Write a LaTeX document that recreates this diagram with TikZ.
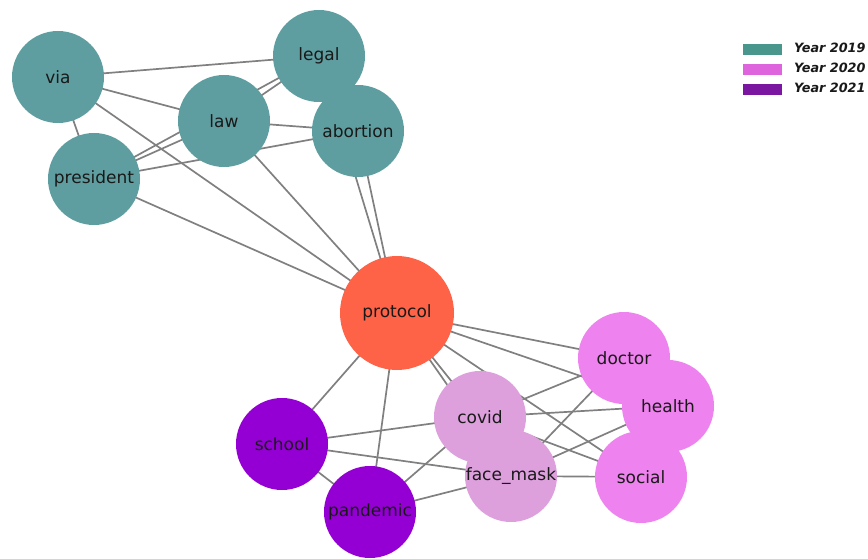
\documentclass[tikz,border=0pt]{standalone}
\usepackage{fontspec}
\setmainfont{DejaVu Sans}
\usetikzlibrary{backgrounds}
\definecolor{teal19}{RGB}{95,158,160}
\definecolor{tomatoc}{RGB}{255,99,71}
\definecolor{violetc}{RGB}{238,130,238}
\definecolor{plumc}{RGB}{221,160,221}
\definecolor{dviolet}{RGB}{148,0,211}
\definecolor{edgec}{RGB}{128,128,128}
\definecolor{txt}{RGB}{25,25,25}
\definecolor{leg19}{RGB}{72,150,140}
\definecolor{leg20}{RGB}{222,100,222}
\definecolor{leg21}{RGB}{122,22,160}
\tikzset{
  vert/.style={circle, inner sep=0pt, minimum size=92pt, text=txt, font=\fontsize{17}{19}\selectfont},
  conn/.style={draw=edgec, line width=1.7pt},
  legpatch/.style={inner sep=0pt, minimum width=39pt, minimum height=11pt},
  legtext/.style={anchor=west, inner sep=0pt, text=txt, font=\fontsize{12.8}{14}\selectfont\bfseries\itshape}
}
\begin{document}
\begin{tikzpicture}[x=1pt,y=-1pt]
\useasboundingbox (0,0) rectangle (868,559);
% nodes
\node[vert, fill=teal19] (via) at (58,77) {via};
\node[vert, fill=teal19] (legal) at (319,56) {legal};
\node[vert, fill=teal19] (law) at (224,121) {law};
\node[vert, fill=teal19] (abortion) at (358,131) {abortion};
\node[vert, fill=teal19] (president) at (94,179) {president};
\node[vert, fill=tomatoc, minimum size=114pt] (protocol) at (397,313) {protocol};
\node[vert, fill=violetc] (doctor) at (624,358) {doctor};
\node[vert, fill=violetc] (health) at (668,406) {health};
\node[vert, fill=violetc] (social) at (641,477) {social};
\node[vert, fill=plumc] (covid) at (480,417) {covid};
\node[vert, fill=plumc] (facemask) at (511,476) {face\_mask};
\node[vert, fill=dviolet] (school) at (282,444) {school};
\node[vert, fill=dviolet] (pandemic) at (370,512) {pandemic};
% edges
\begin{scope}[on background layer]
\foreach \a/\b in {via/legal, via/law, via/president, via/protocol,
  law/legal, president/law, president/legal, president/abortion,
  law/abortion, law/protocol, president/protocol, abortion/protocol, legal/protocol,
  protocol/doctor, protocol/health, protocol/social, protocol/covid, protocol/facemask,
  protocol/school, protocol/pandemic,
  covid/doctor, covid/health, covid/social,
  facemask/doctor, facemask/health, facemask/social, facemask/covid,
  school/covid, school/facemask, school/pandemic,
  pandemic/covid, pandemic/facemask}
  \draw[conn] (\a.center) -- (\b.center);
\end{scope}
% legend
\node[legpatch, fill=leg19] (p19) at (762.5,50) {};
\node[legpatch, fill=leg20] (p20) at (762.5,70) {};
\node[legpatch, fill=leg21] (p21) at (762.5,90) {};
\node[legtext] (t19) at (794,48) {Year 2019};
\node[legtext] (t20) at (794,68) {Year 2020};
\node[legtext] (t21) at (794,88) {Year 2021};
\end{tikzpicture}
\end{document}
